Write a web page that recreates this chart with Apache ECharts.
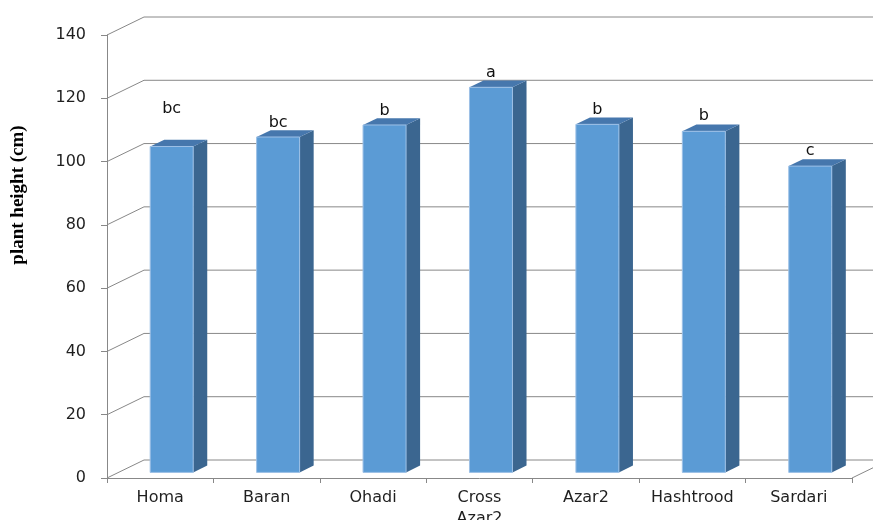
<!DOCTYPE html>
<html>
<head>
<meta charset="utf-8">
<title>plant height</title>
<script src="https://cdn.jsdelivr.net/npm/echarts@6/dist/echarts.min.js"></script>
<style>
  html, body { margin: 0; padding: 0; background: #fff; }
  #main { width: 873px; height: 520px; }
</style>
</head>
<body>
<div id="main"></div>
<script>
// cultivars and mean plant height (cm)
var cultivars = ['Homa', 'Baran', 'Ohadi', 'Cross Azar2', 'Azar2', 'Hashtrood', 'Sardari'];
var heights = [103, 106, 109.8, 121.7, 110, 107.8, 96.8];
// mean-separation letters and the height (axis units) where they sit
var letters = ['bc', 'bc', 'b', 'a', 'b', 'b', 'c'];
var letterLevel = [115, 110.6, 114.4, 126.4, 114.7, 112.8, 101.5];
var yTicks = [0, 20, 40, 60, 80, 100, 120, 140];

// 3d look: depth of the chart box and where a bar sits inside it
var DEPTH_X = 37, DEPTH_Y = -18;
var gridCol = '#888888';
var labelFont = '"DejaVu Sans", Verdana, sans-serif';

var myChart = echarts.init(document.getElementById('main'));

var option = {
    animation: false,
    backgroundColor: '#ffffff',
    grid: { left: 107, top: 35, right: 21, bottom: 42, outerBoundsMode: 'none', containLabel: false },
    graphic: [{
        type: 'text',
        x: 18, y: 195,
        rotation: Math.PI / 2,
        style: {
            text: 'plant height (cm)',
            font: 'bold 19px "Liberation Serif", "Times New Roman", serif',
            fill: '#000',
            align: 'center',
            verticalAlign: 'middle'
        }
    }],
    xAxis: {
        type: 'category',
        data: cultivars,
        axisLine: { lineStyle: { color: gridCol } },
        axisTick: { show: true, length: 5, lineStyle: { color: gridCol } },
        axisLabel: {
            color: '#1f1f1f',
            fontFamily: labelFont,
            fontSize: 16,
            margin: 9,
            lineHeight: 21,
            interval: 0,
            formatter: function (v) { return v.replace(' ', '\n'); }
        }
    },
    yAxis: {
        type: 'value',
        min: 0,
        max: 140,
        interval: 20,
        axisLine: { show: true, lineStyle: { color: gridCol } },
        axisTick: { show: true, length: 6, lineStyle: { color: gridCol } },
        splitLine: { show: false },
        axisLabel: {
            color: '#1f1f1f',
            fontFamily: labelFont,
            fontSize: 16,
            margin: 21
        }
    },
    series: [
        {
            // side wall diagonals and back wall grid lines
            type: 'custom',
            z: 1,
            silent: true,
            data: yTicks.map(function (v) { return [0, v]; }),
            renderItem: function (params, api) {
                var cs = params.coordSys;
                var y = api.coord([0, api.value(1)])[1];
                var x0 = cs.x, x1 = cs.x + cs.width;
                var kids = [
                    { type: 'line', shape: { x1: x0, y1: y, x2: x0 + DEPTH_X, y2: y + DEPTH_Y },
                      style: { stroke: gridCol, lineWidth: 1 } },
                    { type: 'line', shape: { x1: x0 + DEPTH_X, y1: y + DEPTH_Y, x2: x1 + DEPTH_X, y2: y + DEPTH_Y },
                      style: { stroke: gridCol, lineWidth: 1 } }
                ];
                if (api.value(1) === 0) {
                    kids.push({ type: 'line', shape: { x1: x1, y1: y, x2: x1 + DEPTH_X, y2: y + DEPTH_Y },
                      style: { stroke: gridCol, lineWidth: 1 } });
                }
                return { type: 'group', children: kids };
            }
        },
        {
            // 3d columns
            type: 'custom',
            z: 3,
            data: heights.map(function (v, i) { return [i, v]; }),
            renderItem: function (params, api) {
                var i = api.value(0);
                var base = api.coord([i, 0]);
                var top = api.coord([i, api.value(1)]);
                var bw = api.size([1, 0])[0];
                var w = bw * 0.404;
                var offX = DEPTH_X * 0.31, offY = DEPTH_Y * 0.31;
                var dX = DEPTH_X * 0.38, dY = DEPTH_Y * 0.38;
                var fl = base[0] - w / 2 + offX, fr = fl + w;
                var ty = top[1] + offY, by = base[1] + offY;
                var ly = api.coord([i, letterLevel[i]])[1] + offY;
                return {
                    type: 'group',
                    children: [
                        { type: 'polygon',
                          shape: { points: [[fr, ty], [fr + dX, ty + dY], [fr + dX, by + dY], [fr, by]] },
                          style: { fill: '#3b6690' } },
                        { type: 'polygon',
                          shape: { points: [[fl, ty], [fr, ty], [fr + dX, ty + dY], [fl + dX, ty + dY]] },
                          style: { fill: '#4677ad' } },
                        { type: 'rect',
                          shape: { x: fl, y: ty, width: w, height: by - ty },
                          style: { fill: '#5b9bd5', stroke: '#9dc0e6', lineWidth: 1 } },
                        { type: 'text',
                          x: fl + w / 2, y: ly,
                          style: {
                              text: letters[i],
                              fill: '#111',
                              font: '16px ' + labelFont,
                              align: 'center',
                              verticalAlign: 'middle'
                          } }
                    ]
                };
            }
        }
    ]
};
myChart.setOption(option);
</script>
</body>
</html>
